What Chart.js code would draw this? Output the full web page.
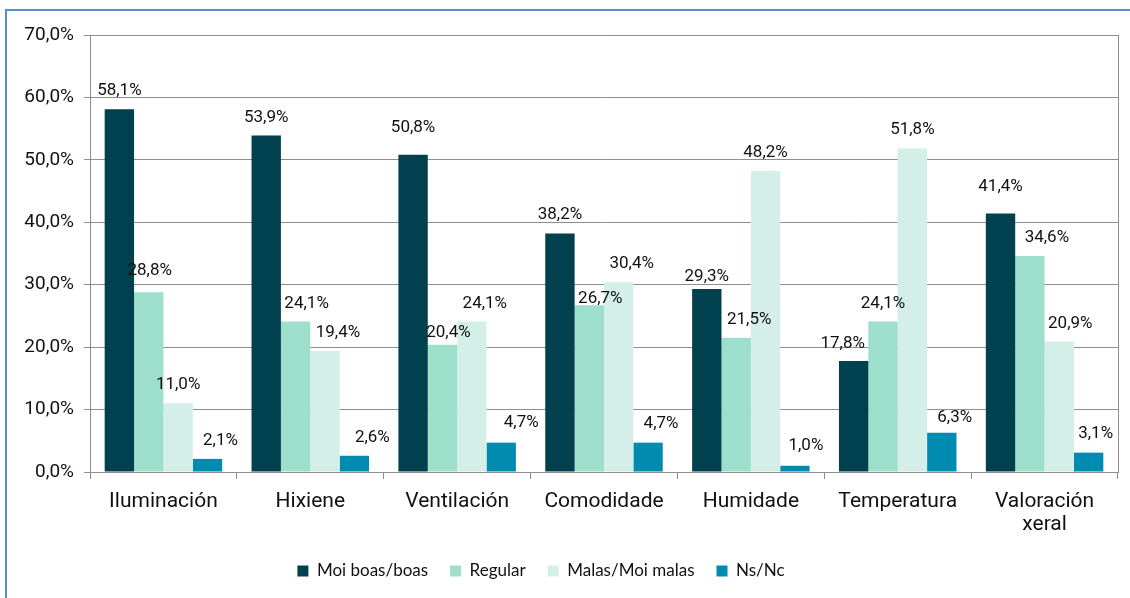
<!DOCTYPE html>
<html>
<head>
<meta charset="utf-8">
<script src="https://cdn.jsdelivr.net/npm/chart.js@4/dist/chart.umd.min.js"></script>
<style>
  html, body { margin: 0; padding: 0; background: #fff; overflow: hidden; }
  #chart { display: block; }
</style>
</head>
<body>
<canvas id="chart" width="1130" height="598"></canvas>
<script>
// categorías do eixo X
const categorias = ['Iluminación', 'Hixiene', 'Ventilación', 'Comodidade', 'Humidade', 'Temperatura', ['Valoración', 'xeral']];

// porcentaxes por resposta
const moiBoas = [58.1, 53.9, 50.8, 38.2, 29.3, 17.8, 41.4];
const regular = [28.8, 24.1, 20.4, 26.7, 21.5, 24.1, 34.6];
const malas   = [11.0, 19.4, 24.1, 30.4, 48.2, 51.8, 20.9];
const nsNc    = [2.1, 2.6, 4.7, 4.7, 1.0, 6.3, 3.1];

const yTicks = [0, 10, 20, 30, 40, 50, 60, 70];

// desprazamento manual das etiquetas [dx, dy] respecto ao alto de cada barra
const axusteEtiquetas = [
    [[0, -19], [0, -18], [0, -27], [0, -19], [0, -12], [-11, -17], [0, -27]],
    [[1, -21], [11, -18], [6, -12], [11, -7], [13, -18], [0, -18], [17, -18]],
    [[0, -19], [13, -18], [13, -18], [13, -18], [0, -18], [0, -19], [11, -18]],
    [[13, -18], [18, -18], [20, -20], [13, -19], [11, -20], [13, -15], [7, -19]]
];

const fmt = v => v.toFixed(1).replace('.', ',') + '%';
const gris = '#8e8e8e';

// marco azul, borde dereito da área do gráfico e lenda algo máis á esquerda
const marco = {
    id: 'marco',
    afterLayout(chart) {
        chart.legend.left -= 36;
    },
    beforeDraw(chart) {
        const c = chart.ctx;
        c.save();
        c.fillStyle = '#fff';
        c.fillRect(0, 0, chart.width, chart.height);
        c.strokeStyle = '#5b8bd0';
        c.lineWidth = 2;
        c.strokeRect(6, 10, 1300, 800);
        c.restore();
    },
    beforeDatasetsDraw(chart) {
        const a = chart.chartArea;
        const c = chart.ctx;
        c.save();
        c.strokeStyle = gris;
        c.lineWidth = 1;
        c.beginPath();
        c.moveTo(Math.round(a.right) + 0.5, a.top);
        c.lineTo(Math.round(a.right) + 0.5, a.bottom);
        c.stroke();
        c.restore();
    }
};

// etiquetas de valor enriba das barras
const etiquetas = {
    id: 'etiquetas',
    afterDatasetsDraw(chart) {
        const c = chart.ctx;
        c.save();
        c.font = '17px Roboto';
        c.fillStyle = '#111';
        c.textAlign = 'center';
        c.textBaseline = 'middle';
        chart.data.datasets.forEach((ds, i) => {
            chart.getDatasetMeta(i).data.forEach((bar, j) => {
                const [dx, dy] = axusteEtiquetas[i][j];
                c.fillText(fmt(ds.data[j]), bar.x + dx, bar.y + dy);
            });
        });
        c.restore();
    }
};

new Chart(document.getElementById('chart'), {
    type: 'bar',
    data: {
        labels: categorias,
        datasets: [
            { label: 'Moi boas/boas', data: moiBoas, backgroundColor: '#01414f' },
            { label: 'Regular', data: regular, backgroundColor: '#9edfcb' },
            { label: 'Malas/Moi malas', data: malas, backgroundColor: '#d4efe7' },
            { label: 'Ns/Nc', data: nsNc, backgroundColor: '#028bb0' }
        ]
    },
    options: {
        responsive: false,
        animation: false,
        layout: { padding: { top: 35, right: 12, bottom: 8.5, left: 0 } },
        datasets: { bar: { categoryPercentage: 0.8, barPercentage: 1.0, borderWidth: 0 } },
        plugins: {
            tooltip: { enabled: false },
            legend: {
                position: 'bottom',
                labels: {
                    boxWidth: 11,
                    boxHeight: 11,
                    padding: 22,
                    color: '#111',
                    font: { family: 'Lato', size: 17 }
                }
            }
        },
        scales: {
            x: {
                afterFit(scale) { scale.height = 68.5; },
                grid: { display: true, drawOnChartArea: false, drawTicks: true, tickLength: 7, color: gris },
                border: { display: true, color: gris },
                ticks: { color: '#111', font: { family: 'Roboto', size: 21, lineHeight: 1.1 }, padding: 11, maxRotation: 0 }
            },
            y: {
                min: 0,
                max: 70,
                afterFit(scale) { scale.width = 90; },
                afterBuildTicks(scale) { scale.ticks = yTicks.map(v => ({ value: v })); },
                grid: { color: gris, tickLength: 6 },
                border: { display: true, color: gris },
                ticks: { color: '#111', font: { family: 'Roboto', size: 19 }, padding: 10, callback: v => fmt(v) }
            }
        }
    },
    plugins: [marco, etiquetas]
});
</script>
</body>
</html>
